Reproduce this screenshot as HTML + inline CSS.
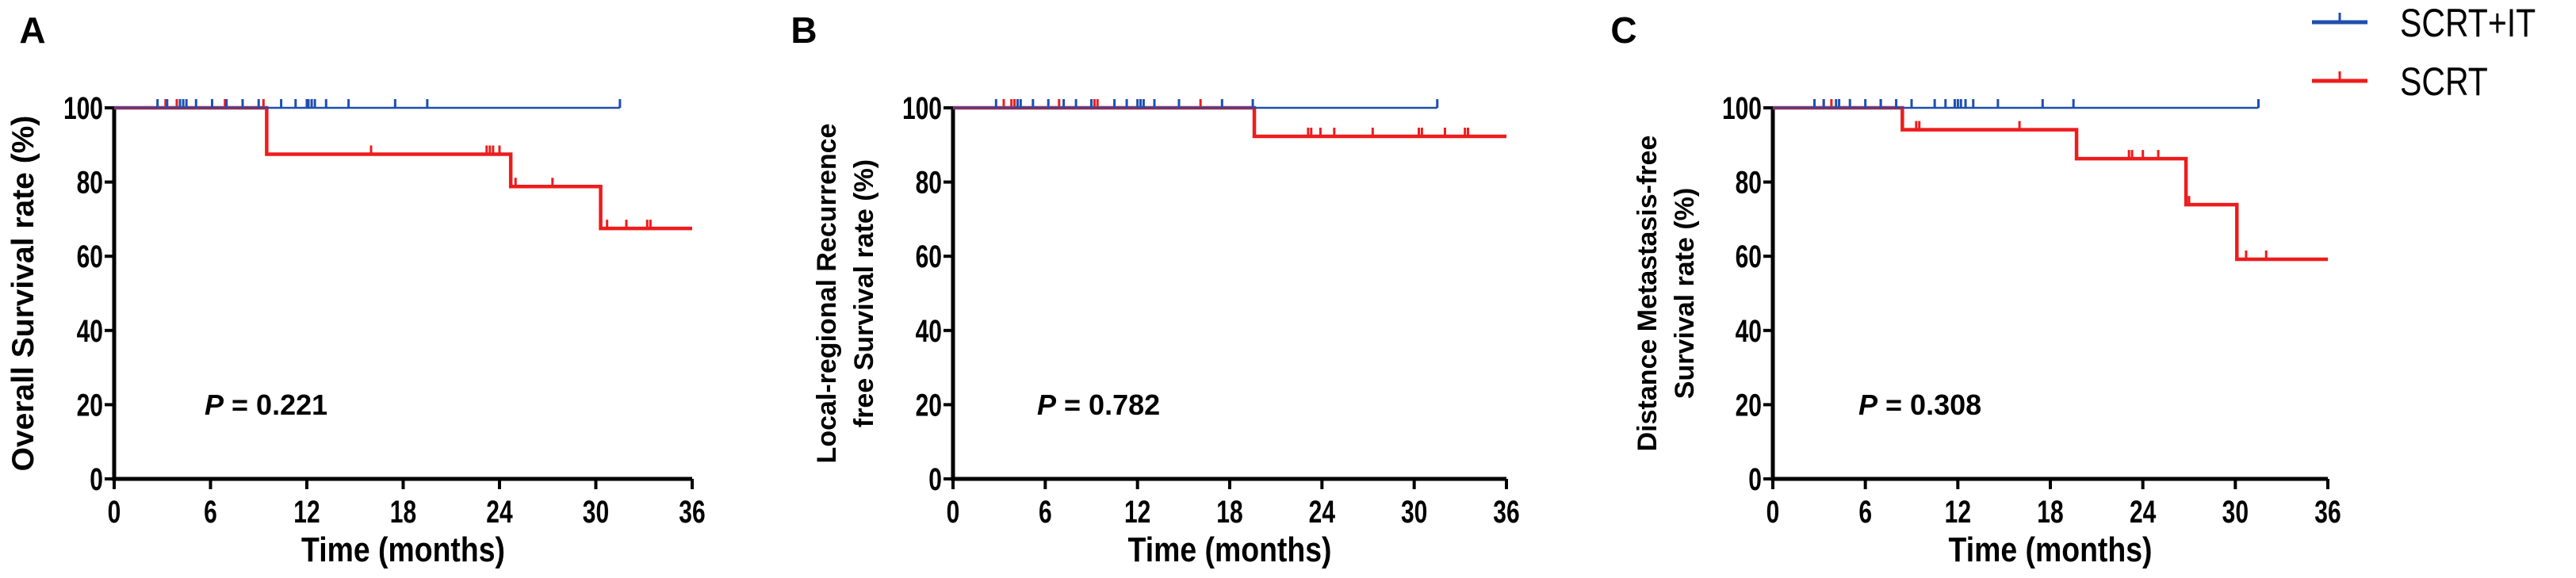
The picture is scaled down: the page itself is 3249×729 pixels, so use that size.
<!DOCTYPE html>
<html><head><meta charset="utf-8"><style>
html,body{margin:0;padding:0;background:#fff;}
svg{display:block;font-family:"Liberation Sans",Arial,sans-serif;}
</style></head><body>
<svg id="fig" width="3249" height="729" viewBox="0 0 3249 729"></svg>
<script>
const xTicks=[0,6,12,18,24,30,36];
const yTicks=[0,20,40,60,80,100];
// Panel A
const aBlueEnd=31.5;
const aBlueCens=[2.7,3.3,4.1,4.3,4.5,5.1,6.1,7,8,9,10.4,11.3,12,12.1,12.3,12.5,13.2,14.6,17.5,19.5,31.5];
const aRedTimes=[0,9.5,24.7,30.3,36];
const aRedVals=[100,87.5,78.8,67.5,67.5];
const aRedCens=[3.2,3.9,6.9,9.3,16,23.2,23.4,23.6,24,25,27.3,30.7,31.9,33.2,33.4];
// Panel B
const bBlueEnd=31.5;
const bBlueCens=[2.8,4.2,4.4,5.2,6.2,7.2,8,9,10.5,11.3,12,12.2,12.4,13.1,14.7,17.5,19.5,31.5];
const bRedTimes=[0,19.6,36];
const bRedVals=[100,92.3,92.3];
const bRedCens=[3.3,3.8,4.0,6.9,9.2,9.4,16.1,23.1,23.3,23.9,24.8,27.3,30.3,30.5,32,33.3,33.5];
// Panel C
const cBlueEnd=31.5;
const cBlueCens=[2.7,3.3,4.1,4.3,5,6,7,8,9,10.5,11.2,11.8,12,12.2,12.5,13,14.6,17.5,19.5,31.5];
const cRedTimes=[0,8.4,19.7,26.8,30.1,36];
const cRedVals=[100,94.1,86.3,73.9,59.2,59.2];
const cRedCens=[3.3,3.8,7.0,9.3,9.5,16,23.1,23.3,24,25,27,30.7,32];

const NS="http://www.w3.org/2000/svg";
const svg=document.getElementById('fig');
const BLUE="#1f4fae", RED="#ee1c1c";
function mk(tag,attrs,parent,text){const e=document.createElementNS(NS,tag);for(const k in attrs)e.setAttribute(k,attrs[k]);if(text!==undefined)e.textContent=text;(parent||svg).appendChild(e);return e;}

function panel(cfg){
  const g=mk('g',{});
  
  
  const X=t=>cfg.x0+(cfg.x1-cfg.x0)*t/36;
  const Y=v=>604-(604-136)*v/100;
  const L=mk('text',{x:cfg.lx,y:54,'font-size':46,'font-weight':'bold','text-anchor':'middle'},g,cfg.id);
  
  
  const yt=mk('text',{transform:`translate(${cfg.tx},370) rotate(-90)`,'font-size':cfg.tfs,'font-weight':'bold','text-anchor':'middle'},g);
  
  
  cfg.title.forEach((s,i)=>{mk('tspan',{x:0,dy:i===0?(cfg.title.length>1?-14:12):47},yt,s);});
  const ax=mk('path',{d:`M${X(0)},${Y(100)-2}V${Y(0)}H${X(36)}`,fill:'none',stroke:'#000','stroke-width':5},g);
  
  
  yTicks.forEach(v=>{
    mk('line',{x1:X(0)-12,x2:X(0),y1:Y(v),y2:Y(v),stroke:'#000','stroke-width':4},g);
    const t=mk('text',{x:X(0)-14,y:Y(v)+14,'font-size':40,'font-weight':'bold','text-anchor':'end',transform:`translate(${X(0)-14},0) scale(0.75,1) translate(${-(X(0)-14)},0)`},g,String(v));
    
    
  });
  xTicks.forEach(v=>{
    mk('line',{x1:X(v),x2:X(v),y1:Y(0),y2:Y(0)+13,stroke:'#000','stroke-width':4},g);
    const t=mk('text',{x:X(v),y:659,'font-size':40,'font-weight':'bold','text-anchor':'middle',transform:`translate(${X(v)},0) scale(0.75,1) translate(${-X(v)},0)`},g,String(v));
    
    
  });
  const xt=mk('text',{x:(X(0)+X(36))/2,y:708,'font-size':44,'font-weight':'bold','text-anchor':'middle',transform:`translate(${(X(0)+X(36))/2},0) scale(0.85,1) translate(${-(X(0)+X(36))/2},0)`},g,'Time (months)');
  
  
  const p=mk('text',{x:cfg.px,y:523,'font-size':36,'font-weight':'bold'},g);
  
  
  mk('tspan',{'font-style':'italic'},p,'P');
  mk('tspan',{},p,' = '+cfg.p);
  let d=`M${X(cfg.rt[0])},${Y(cfg.rv[0])}`;
  for(let i=1;i<cfg.rt.length;i++){d+=`H${X(cfg.rt[i])}`;if(i<cfg.rt.length-1)d+=`V${Y(cfg.rv[i])}`;}
  const rc=mk('path',{d:d,fill:'none',stroke:RED,'stroke-width':4.5},g);
  
  
  const valAt=t=>{let v=cfg.rv[0];for(let i=0;i<cfg.rt.length;i++){if(cfg.rt[i]<=t)v=cfg.rv[i];}return v;};
  cfg.rc.forEach(t=>{
    const l=mk('line',{x1:X(t),x2:X(t),y1:Y(valAt(t)),y2:Y(valAt(t))-11,stroke:RED,'stroke-width':3},g);
    
    
  });
  const bc=mk('line',{x1:X(0),x2:X(cfg.be),y1:Y(100),y2:Y(100),stroke:BLUE,'stroke-width':2.5},g);
  
  
  cfg.bc.forEach(t=>{
    const l=mk('line',{x1:X(t),x2:X(t),y1:Y(100),y2:Y(100)-11,stroke:BLUE,'stroke-width':3},g);
    
    
  });
}
panel({id:'A',x0:144,x1:873,lx:41,tx:30,tfs:39,px:258,p:'0.221',title:['Overall Survival rate (%)'],be:aBlueEnd,bc:aBlueCens,rt:aRedTimes,rv:aRedVals,rc:aRedCens});
panel({id:'B',x0:1202,x1:1900,lx:1014,tx:1068,tfs:34,px:1308,p:'0.782',title:['Local-regional Recurrence','free Survival rate (%)'],be:bBlueEnd,bc:bBlueCens,rt:bRedTimes,rv:bRedVals,rc:bRedCens});
panel({id:'C',x0:2236,x1:2936,lx:2048,tx:2103,tfs:34,px:2344,p:'0.308',title:['Distance Metastasis-free','Survival rate (%)'],be:cBlueEnd,bc:cBlueCens,rt:cRedTimes,rv:cRedVals,rc:cRedCens});

const lg=mk('g',{});


[[BLUE,'SCRT+IT',28],[RED,'SCRT',102]].forEach(([c,s,y])=>{
  const e=mk('g',{},lg);
  
  
  mk('line',{x1:2916,x2:2986,y1:y,y2:y,stroke:c,'stroke-width':5},e);
  mk('line',{x1:2951,x2:2951,y1:y,y2:y-12,stroke:c,'stroke-width':3},e);
  mk('text',{x:3027,y:y+18,'font-size':50,transform:`translate(3027,0) scale(0.82,1) translate(-3027,0)`},e,s);
});
</script>
</body></html>
